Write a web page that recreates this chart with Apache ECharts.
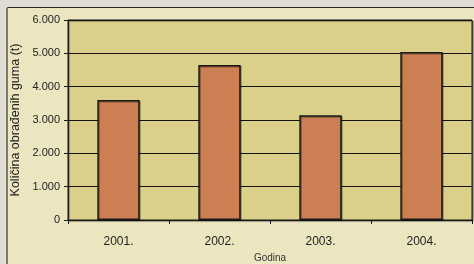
<!DOCTYPE html>
<html><head><meta charset="utf-8">
<script src="https://cdn.jsdelivr.net/npm/echarts@6/dist/echarts.min.js"></script>
<style>html,body{margin:0;padding:0;background:#e0ddd4;}#c{width:474px;height:264px;}</style>
</head><body><div id="c"></div>
<script>
var categories = ['2001.', '2002.', '2003.', '2004.'];
var values = [3600, 4650, 3140, 5040];
var yTicks = [0, 1000, 2000, 3000, 4000, 5000, 6000];

var chart = echarts.init(document.getElementById('c'));
chart.setOption({
  animation: false,
  backgroundColor: '#e0ddd4',
  textStyle: { fontFamily: 'Liberation Sans, Arial, sans-serif' },
  graphic: [
    { type: 'rect', z: -10, shape: { x: 7.5, y: 7.5, width: 480, height: 270 },
      style: { fill: '#ebe6c0', stroke: '#2a2a2a', lineWidth: 1 } },
    { type: 'rect', z: -9, shape: { x: 6, y: 8, width: 2, height: 260 },
      style: { fill: '#7a7a6c' } }
  ],
  grid: { left: 68, top: 20, right: 2, bottom: 44, show: true, outerBoundsMode: 'none', containLabel: false,
    backgroundColor: '#dbd089', borderColor: '#1a1a1a', borderWidth: 1,
    shadowColor: 'rgba(0,0,0,0.5)', shadowOffsetX: 1, shadowOffsetY: 1, shadowBlur: 1 },
  xAxis: {
    type: 'category', data: categories,
    name: 'Godina', nameLocation: 'middle', nameGap: 33,
    nameTextStyle: { fontSize: 10, color: '#333' },
    axisLine: { lineStyle: { color: '#1a1a1a' } },
    axisTick: { show: true, alignWithLabel: false, length: 4, lineStyle: { color: '#1a1a1a' } },
    axisLabel: { fontSize: 12, color: '#222', margin: 16 }
  },
  yAxis: {
    type: 'value', min: 0, max: 6000, interval: 1000,
    name: 'Količina obrađenih guma (t)', nameLocation: 'middle', nameGap: 43,
    nameTextStyle: { fontSize: 12.5, color: '#222' },
    axisLine: { show: true, lineStyle: { color: '#1a1a1a' } },
    axisTick: { show: true, length: 4, lineStyle: { color: '#1a1a1a' } },
    axisLabel: { fontSize: 11, color: '#222', margin: 8,
      formatter: function (v) { return v === 0 ? '0' : (v / 1000).toFixed(3); } },
    splitLine: { show: true, lineStyle: { color: '#111', width: 1 } }
  },
  series: [{
    type: 'bar', data: values, barWidth: '42%',
    itemStyle: { color: '#cc7f52', borderColor: '#1a1a1a', borderWidth: 1.5,
      shadowColor: 'rgba(0,0,0,0.35)', shadowOffsetX: 1, shadowOffsetY: 1 }
  }]
});
</script></body></html>
